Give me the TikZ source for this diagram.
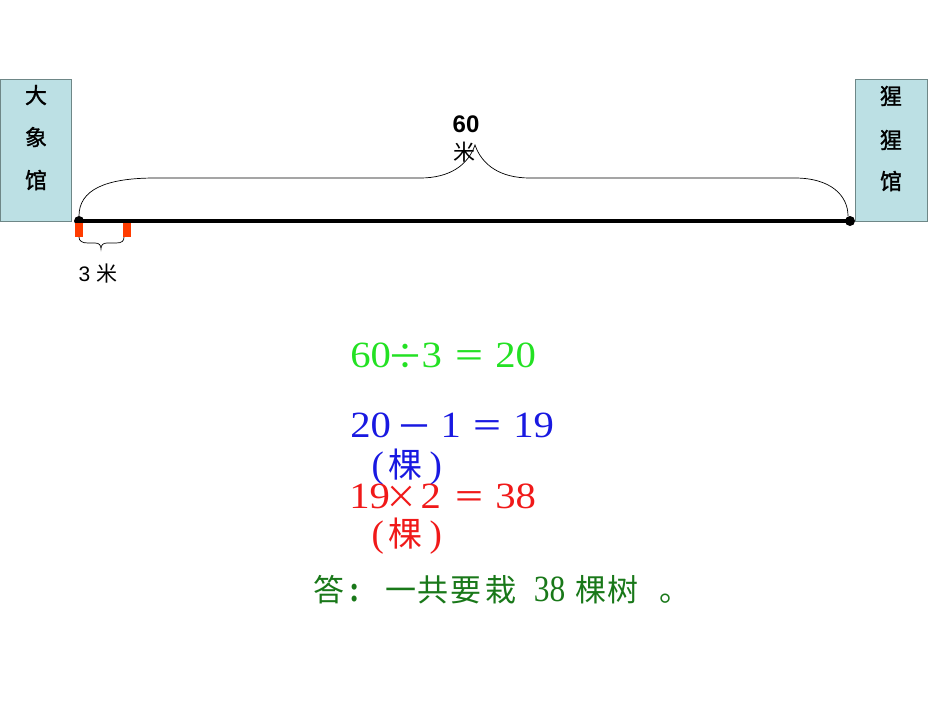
\documentclass[tikz,border=0pt]{standalone}
\usepackage{fontspec}
\setmainfont{Liberation Serif}
\newfontfamily\cjk{Noto Sans CJK SC}
\newfontfamily\cjkb[FakeBold=1.3]{Noto Sans CJK SC}
\newfontfamily\arl{Liberation Sans}
\newfontfamily\eqd[FakeStretch=1.1]{Liberation Serif}
\newfontfamily\eqa[FakeStretch=0.85]{Liberation Serif}
\definecolor{boxfill}{RGB}{188,224,228}
\definecolor{boxline}{RGB}{110,135,135}
\definecolor{eqgreen}{RGB}{35,225,35}
\definecolor{eqblue}{RGB}{25,25,225}
\definecolor{eqred}{RGB}{240,25,25}
\definecolor{ansgreen}{RGB}{25,120,25}
\definecolor{markred}{RGB}{255,60,0}
% place #2 centred at absolute x = #1 (node sits at x = 0)
\newcommand\gc[2]{\makebox[0pt][l]{\hspace*{#1pt}\makebox[0pt]{#2}}}
\newcommand\gl[2]{\makebox[0pt][l]{\hspace*{#1pt}#2}}
\newcommand\dg[1]{{\eqd\fontsize{37}{39}\selectfont #1}}
\newcommand\pa[1]{{\fontsize{37}{39}\selectfont #1}}
\newcommand\sy[1]{{\cjk\fontsize{32}{34}\selectfont #1}}
\newcommand\symid[1]{\raisebox{-2pt}{\cjk\fontsize{36}{38}\selectfont #1}}
\newcommand\kc[1]{{\cjk\fontsize{34}{36}\selectfont #1}}
\newcommand\ac[1]{{\cjk\fontsize{31}{33}\selectfont #1}}
\newcommand\ad[1]{{\eqa\fontsize{37}{39}\selectfont #1}}
\tikzset{
  hall/.style={draw=boxline, fill=boxfill, line width=0.8pt},
  hallchar/.style={font=\cjkb\fontsize{22}{24}\selectfont, inner sep=0pt},
  brace/.style={draw=black, line width=0.7pt},
  eqline/.style={anchor=base west, inner sep=0pt},
}
\begin{document}
\begin{tikzpicture}[x=1pt,y=-1pt]
\useasboundingbox (0,0) rectangle (950,713);
% halls
\draw[hall] (0,79) rectangle (71,221);
\node[hallchar] (l1) at (36,95) {大};
\node[hallchar] (l2) at (36,137) {象};
\node[hallchar] (l3) at (36,180) {馆};
\draw[hall] (855,79) rectangle (927,221);
\node[hallchar] (r1) at (891,96) {猩};
\node[hallchar] (r2) at (891,140) {猩};
\node[hallchar] (r3) at (891,181) {馆};
% road
\coordinate (A) at (79,221);
\coordinate (B) at (850,221);
\draw[line width=3.5pt] (A) -- (B);
\fill (A) circle (5);
\fill (B) circle (5);
% markers
\fill[markred] (75,223) rectangle (83,237);
\fill[markred] (123,223) rectangle (131,237);
% big brace
\coordinate (tip) at (475,145);
\draw[brace] (79,216) .. controls (79,190) and (105,178) .. (155,178)
  -- (420,178) .. controls (450,178) and (468,165) .. (tip)
  .. controls (482,165) and (500,178) .. (530,178)
  -- (795,178) .. controls (830,178) and (848,195) .. (848,216);
\node[font=\arl\bfseries\fontsize{24}{26}\selectfont, inner sep=0pt] (sixty) at (466,124) {60};
\node[font=\cjk\fontsize{22}{24}\selectfont, inner sep=0pt] (mi) at (464,152) {米};
% small brace
\draw[brace] (79,237) .. controls (79,241) and (82,243) .. (88,243)
  -- (95,243) .. controls (99,243) and (101,245) .. (101,249)
  .. controls (101,245) and (103,243) .. (107,243)
  -- (116,243) .. controls (122,243) and (124,241) .. (124,237);
\node[inner sep=0pt] (three) at (98,274) {\arl\fontsize{21}{23}\selectfont 3 {\cjk 米}};
% equations
\node[eqline, text=eqgreen] (e1) at (0,367) {%
  \gc{370}{\dg{60}}\gc{405}{\symid{÷}}\gc{431}{\dg{3}}\gc{469}{\sy{＝}}\gc{515}{\dg{20}}};
\node[eqline, text=eqblue] (e2) at (0,437) {%
  \gc{370}{\dg{20}}\gc{414}{\symid{－}}\gc{450}{\dg{1}}\gc{487}{\sy{＝}}\gc{533}{\dg{19}}};
\node[eqline, text=eqblue] (u1) at (0,477) {%
  \gc{377}{\pa{(}}\gc{405}{\kc{棵}}\gc{435}{\pa{)}}};
\node[eqline, text=eqred] (e3) at (0,508) {%
  \gc{369}{\dg{19}}\gc{401}{\sy{×}}\gc{430}{\dg{2}}\gc{469}{\sy{＝}}\gc{515}{\dg{38}}};
\node[eqline, text=eqred] (u2) at (0,546) {%
  \gc{377}{\pa{(}}\gc{405}{\kc{棵}}\gc{435}{\pa{)}}};
% answer
\node[eqline, text=ansgreen] (ans) at (0,601) {%
  \gc{328}{\ac{答}}\gc{354}{\ad{\bfseries :}}\gc{400}{\ac{一}}\gc{432}{\ac{共}}\gc{465}{\ac{要}}\gc{500}{\ac{栽}}%
  \gc{549}{\ad{38}}\gc{590}{\ac{棵}}\gc{622}{\ac{树}}\gl{659}{\ac{。}}};
\end{tikzpicture}
\end{document}
